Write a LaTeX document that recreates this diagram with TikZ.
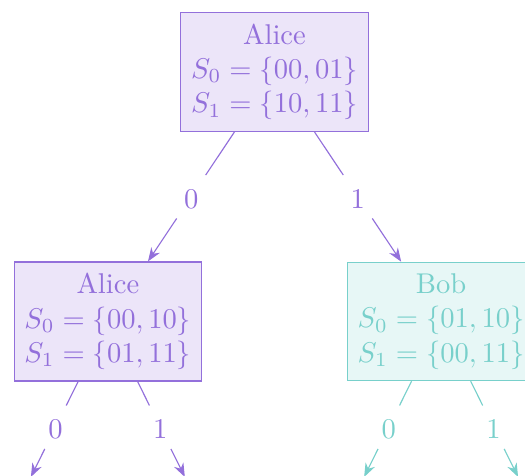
\documentclass[tikz,border=0pt]{standalone}
\usepackage{amsmath,amssymb}
\usepackage{xcolor}
\usepackage{tikz}
\usetikzlibrary{calc,arrows.meta,positioning}
\definecolor{AlicePurple}{RGB}{147, 112, 219}
\definecolor{BobTeal}{RGB}{120, 208, 203}

\begin{document}
\begin{tikzpicture}[
    alicebox/.style={draw=AlicePurple, fill=AlicePurple!18, text=AlicePurple, align=center, inner xsep=3.6pt, inner ysep=4pt},
    bobbox/.style={draw=BobTeal, fill=BobTeal!18, text=BobTeal, align=center, inner xsep=3.6pt, inner ysep=4pt},
    bitlabel/.style={text height=8pt, inner sep=3.4pt},
    >={Stealth}
]
    \useasboundingbox (-3.377,0.886) rectangle (3.082,-4.970);
    \clip (-3.377,0.886) rectangle (3.082,-4.970);
    \node[alicebox] (root)   at (0,0)          {Alice\\ $S_0=\{00,01\}$\\ $S_1=\{10,11\}$};
    \node[alicebox] (aliceL) at (-2.05,-3.069) {Alice\\ $S_0=\{00,10\}$\\ $S_1=\{01,11\}$};
    \node[bobbox]   (bobR)   at (2.05,-3.069)  {Bob\\ $S_0=\{01,10\}$\\ $S_1=\{00,11\}$};
    % first split
    \node[bitlabel, AlicePurple] (root-l0) at ($(root)!0.5!(aliceL)$) {$0$};
    \node[bitlabel, AlicePurple] (root-l1) at ($(root)!0.5!(bobR)$)   {$1$};
    \draw[AlicePurple] (root) -- (root-l0);
    \draw[AlicePurple, ->] (root-l0) -- (aliceL);
    \draw[AlicePurple] (root) -- (root-l1);
    \draw[AlicePurple, ->] (root-l1) -- (bobR);
    % second split, cut off below
    \foreach \p/\clr in {aliceL/AlicePurple, bobR/BobTeal} {
        \coordinate (\p-0) at ($(\p)+(-0.947,-1.913)$);
        \coordinate (\p-1) at ($(\p)+(0.947,-1.913)$);
        \foreach \b in {0,1} {
            \node[bitlabel, \clr] (\p-l\b) at ($(\p)!0.68!(\p-\b)$) {$\b$};
            \draw[\clr] (\p) -- (\p-l\b);
            \draw[\clr, ->] (\p-l\b) -- (\p-\b);
        }
    }
\end{tikzpicture}
\end{document}
